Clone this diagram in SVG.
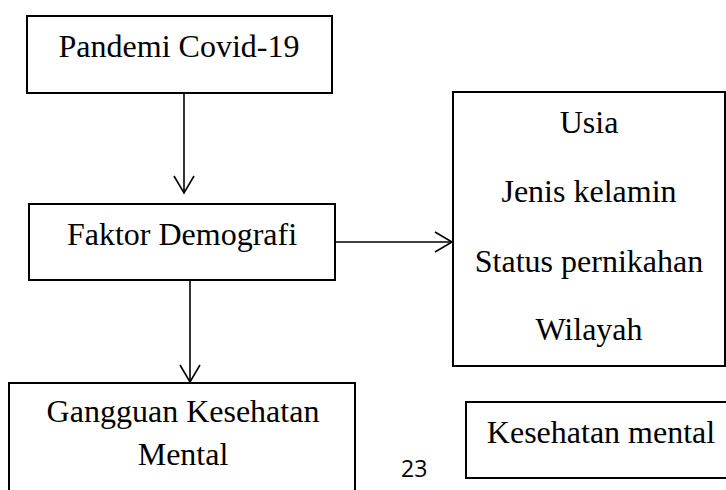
<svg xmlns="http://www.w3.org/2000/svg" width="726" height="490" viewBox="0 0 726 490">
<style>
.box{fill:#fff;stroke:#000;stroke-width:2}
.t{font-family:"Liberation Serif","Times New Roman",serif;font-size:32px;fill:#000;text-anchor:middle}
.c{stroke:#000;stroke-width:1.6;fill:none}
.pg{font-family:"Open Sans","Liberation Sans",sans-serif;font-size:23px;fill:#000}
</style>
<defs>
<marker id="arr" markerUnits="userSpaceOnUse" markerWidth="22" markerHeight="24" refX="18" refY="11" orient="auto" viewBox="0 0 22 24">
<path d="M1,1 L18,11 L1,21" fill="none" stroke="#000" stroke-width="1.6"/>
</marker>
</defs>
<rect width="726" height="490" fill="#fff"/>
<g id="connectors">
<line class="c" x1="184" y1="93" x2="184" y2="193" marker-end="url(#arr)"/>
<line class="c" x1="335" y1="242" x2="452" y2="242" marker-end="url(#arr)"/>
<line class="c" x1="190" y1="280" x2="190" y2="382" marker-end="url(#arr)"/>
</g>
<g id="pandemi">
<rect class="box" x="27" y="16" width="305" height="77"/>
<text class="t" x="179" y="57">Pandemi Covid-19</text>
</g>
<g id="faktor">
<rect class="box" x="29" y="204" width="306" height="76"/>
<text class="t" x="182" y="245">Faktor Demografi</text>
</g>
<g id="demografi-list">
<rect class="box" x="453" y="92" width="272" height="274"/>
<text class="t" x="589" y="133">Usia</text>
<text class="t" x="589" y="202">Jenis kelamin</text>
<text class="t" x="589" y="272">Status pernikahan</text>
<text class="t" x="589" y="340">Wilayah</text>
</g>
<g id="gangguan">
<rect class="box" x="9" y="383" width="346" height="120"/>
<text class="t" x="183" y="422">Gangguan Kesehatan</text>
<text class="t" x="183" y="465">Mental</text>
</g>
<g id="kesehatan">
<rect class="box" x="466" y="402" width="280" height="76"/>
<text class="t" x="601" y="443">Kesehatan mental</text>
</g>
<text class="pg" x="401" y="477">23</text>
</svg>
